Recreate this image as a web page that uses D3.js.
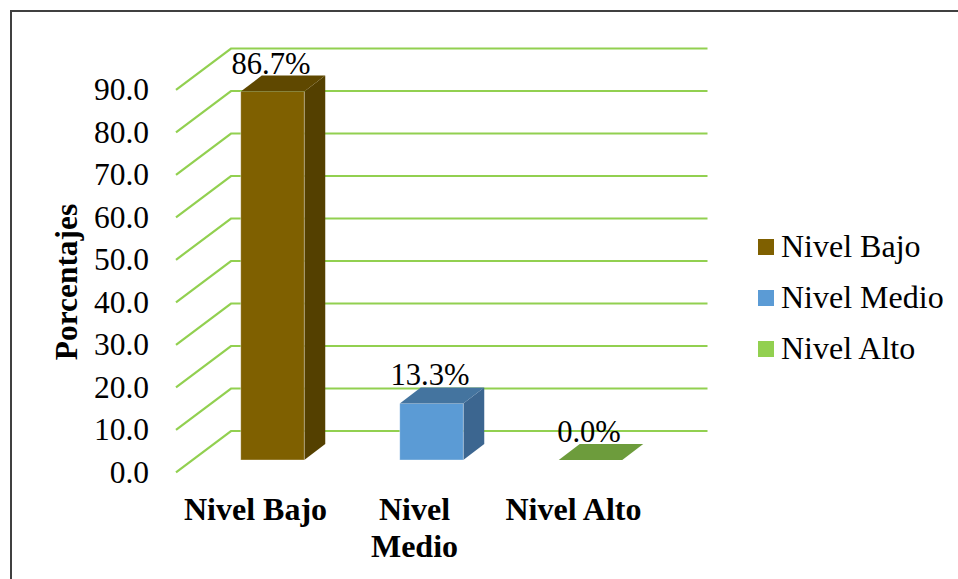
<!DOCTYPE html>
<html><head><meta charset="utf-8">
<style>html,body{margin:0;padding:0;background:#fff}svg{display:block}text{font-family:"Liberation Serif","Times New Roman",serif;fill:#000}</style>
<script src="https://cdn.jsdelivr.net/npm/d3@7/dist/d3.min.js"></script>
</head><body><svg id="c" width="958" height="579"></svg>
<script>
const categories = ["Nivel Bajo", "Nivel Medio", "Nivel Alto"];
const values = [86.7, 13.3, 0.0];
const valueLabels = ["86.7%", "13.3%", "0.0%"];
const yTicks = [0, 10, 20, 30, 40, 50, 60, 70, 80, 90];
const colors = ["#7f6000", "#5b9bd5", "#92d050"];
const topColors = ["#5f4800", "#44749f", "#6d9c3c"];
const sideColors = ["#544000", "#3c6690", "#618a35"];

const svg = d3.select("#c");
const W = 958, H = 579;
const y = d3.scaleLinear().domain([0, 90]).range([472.3, 89.8]);
const x = d3.scaleBand().domain(categories).range([176, 653]).paddingInner(0).paddingOuter(0);
const wallDx = 55, wallDy = -41.3, barDx = 21, barDy = -16;
const barW = 63.5, barOffset = 17, floorShift = -12.3;

// frame
svg.append("path").attr("d", `M${W},11H11V${H}`).attr("fill", "none").attr("stroke", "#404040").attr("stroke-width", 2);

// gridlines
const gridColor = "#92d050";
const line = d3.line();
svg.append("g").selectAll("path").data(yTicks).join("path")
  .attr("d", t => line([[176, y(t)], [176 + wallDx, y(t) + wallDy], [707.5, y(t) + wallDy]]))
  .attr("fill", "none").attr("stroke", gridColor).attr("stroke-width", 2.2);

// axis tick labels
svg.append("g").selectAll("text").data(yTicks).join("text")
  .attr("x", 149).attr("y", t => y(t) + 10.5).attr("text-anchor", "end")
  .attr("font-size", 31.5).text(t => d3.format(".1f")(t));

// y axis title
svg.append("text").attr("transform", "translate(77,282) rotate(-90)")
  .attr("text-anchor", "middle").attr("font-size", 31.4).attr("font-weight", "bold").text("Porcentajes");

// bars
const bars = svg.append("g").selectAll("g").data(categories).join("g");
bars.each(function (c, i) {
  const g = d3.select(this);
  const x0 = x(c) + x.bandwidth() / 2 + barOffset - barW / 2, x1 = x0 + barW;
  const yb = y(0) + floorShift, yt = y(values[i]) + floorShift;
  const stroke = "rgba(255,255,255,0.45)";
  if (values[i] > 0) {
    g.append("polygon").attr("points", [[x1, yb], [x1 + barDx, yb + barDy], [x1 + barDx, yt + barDy], [x1, yt]].join(" ")).attr("fill", sideColors[i]);
    g.append("rect").attr("x", x0).attr("y", yt).attr("width", barW).attr("height", yb - yt).attr("fill", colors[i]).attr("stroke", stroke).attr("stroke-width", 0.8);
  }
  g.append("polygon").attr("points", [[x0, yt], [x1, yt], [x1 + barDx, yt + barDy], [x0 + barDx, yt + barDy]].join(" ")).attr("fill", topColors[i]);
  g.append("text").attr("x", x0 + barW / 2 - 1.5).attr("y", yt + barDy - 2)
    .attr("text-anchor", "middle").attr("font-size", 30.6).text(valueLabels[i]);
});

// category labels
const catLines = [["Nivel Bajo"], ["Nivel", "Medio"], ["Nivel Alto"]];
const catCenter = c => x(c) + x.bandwidth() / 2;
svg.append("g").selectAll("text").data(categories).join("text")
  .attr("text-anchor", "middle").attr("font-size", 32).attr("font-weight", "bold")
  .each(function (c, i) {
    d3.select(this).selectAll("tspan").data(catLines[i]).join("tspan")
      .attr("x", catCenter(c)).attr("y", (d, k) => 520 + k * 37).text(d => d);
  });

// legend
const legendY = d3.scalePoint().domain(categories).range([247, 349]);
const lg = svg.append("g").selectAll("g").data(categories).join("g");
lg.append("rect").attr("x", 758).attr("y", d => legendY(d) - 8).attr("width", 16).attr("height", 16).attr("fill", (d, i) => colors[i]);
lg.append("text").attr("x", 781).attr("y", d => legendY(d) + 10).attr("font-size", 32).text(d => d);
</script></body></html>
